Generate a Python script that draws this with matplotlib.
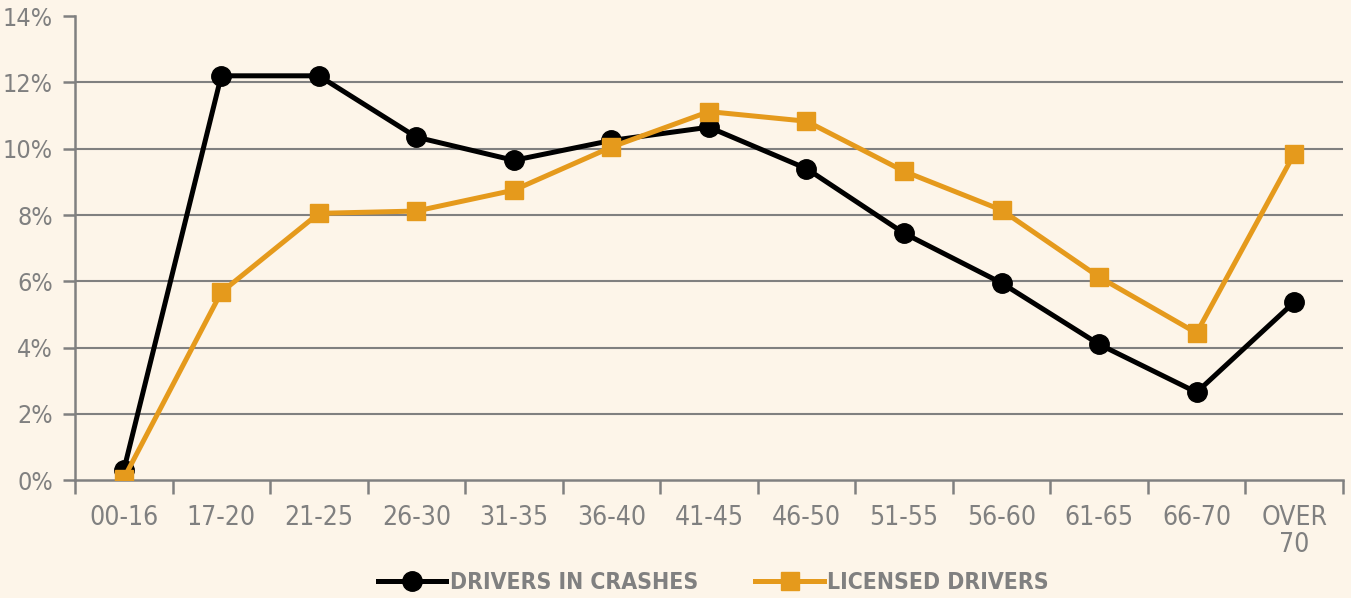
import matplotlib
matplotlib.use("Agg")
import matplotlib.pyplot as plt
from matplotlib.ticker import FuncFormatter

# age groups and shares (%)
categorias = ['00-16', '17-20', '21-25', '26-30', '31-35', '36-40', '41-45',
              '46-50', '51-55', '56-60', '61-65', '66-70', 'OVER\n70']
crashes = [0.3, 12.2, 12.2, 10.35, 9.65, 10.25, 10.65, 9.4, 7.45, 5.95, 4.1, 2.65, 5.37]
licensed = [0.05, 5.67, 8.05, 8.12, 8.75, 10.05, 11.12, 10.83, 9.32, 8.15, 6.13, 4.44, 9.84]

fundo = '#fdf5e9'
cinza = '#808080'
laranja = '#e59a1c'

fonte = dict(family='DejaVu Sans', stretch='condensed')

fig = plt.figure(figsize=(13.51, 5.98), dpi=100, facecolor=fundo)
ax = fig.add_axes([0.0555, 0.197, 0.9385, 0.776], facecolor=fundo)

x = list(range(len(categorias)))
ax.plot(x, crashes, color='black', lw=3.6, marker='o', markersize=14,
        label='DRIVERS IN CRASHES', zorder=3)
ax.plot(x, licensed, color=laranja, lw=3.6, marker='s', markersize=13,
        label='LICENSED DRIVERS', zorder=4)

ax.set_xlim(-0.5, len(categorias) - 0.5)
ax.set_ylim(0, 14)
ax.set_yticks(range(0, 15, 2))
ax.yaxis.set_major_formatter(FuncFormatter(lambda v, p: f'{int(v)}%'))
for g in range(2, 14, 2):
    ax.axhline(g, color=cinza, lw=1.5, zorder=1)

ax.set_xticks([i - 0.5 for i in range(len(categorias) + 1)])
ax.set_xticklabels([])
ax.set_xticks(x, minor=True)
ax.set_xticklabels(categorias, minor=True, fontsize=19, color=cinza,
                   linespacing=1.05, va='top', **fonte)
ax.tick_params(axis='x', which='minor', length=0, pad=18)
ax.tick_params(axis='x', which='major', length=10, width=1.8, color=cinza)
ax.tick_params(axis='y', length=9, width=1.8, color=cinza, labelsize=18,
               labelcolor=cinza, pad=7)
for t in ax.get_yticklabels():
    t.set_family('DejaVu Sans')
    t.set_stretch('condensed')

for s in ['top', 'right']:
    ax.spines[s].set_visible(False)
for s in ['left', 'bottom']:
    ax.spines[s].set_color(cinza)
    ax.spines[s].set_linewidth(1.8)

leg = fig.legend(loc='lower center', bbox_to_anchor=(0.528, -0.028), ncol=2,
                 frameon=False, handlelength=3.0, columnspacing=2.5,
                 handletextpad=0.15,
                 prop={'family': 'DejaVu Sans', 'stretch': 'condensed',
                       'size': 16.5, 'weight': 'bold'})
for t in leg.get_texts():
    t.set_color(cinza)

fig.savefig('out.png', dpi=100, facecolor=fundo)
